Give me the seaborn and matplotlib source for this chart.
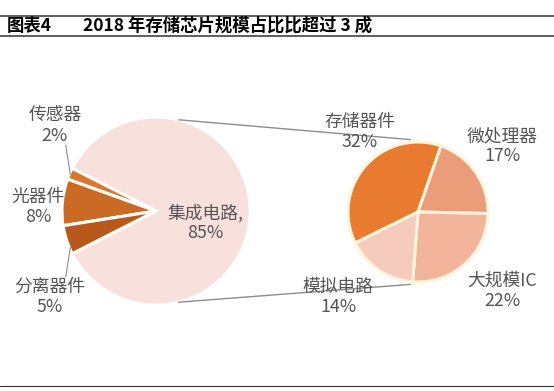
import numpy as np
import matplotlib
matplotlib.use("Agg")
import matplotlib.pyplot as plt
import seaborn as sns

# 半导体结构（左）和集成电路结构（右），单位 %
total_labels = ["集成电路", "传感器", "光器件", "分离器件"]
total_values = [85, 2, 8, 5]
total_colors = ["#F8E1DC", "#DB762C", "#CB6A25", "#B8581C"]

ic_labels = ["存储器件", "微处理器", "大规模IC", "模拟电路"]
ic_values = [32, 17, 22, 14]
ic_colors = ["#E97B30", "#EB9C78", "#F2B59C", "#F6CABD"]

title_tag = "图表4"
title_text = "2018 年存储芯片规模占比比超过 3 成"

sns.set_theme(style="white")
plt.rcParams["font.family"] = ["Noto Sans CJK SC", "DejaVu Sans"]

W, H = 554, 391
fig = plt.figure(figsize=(W / 100, H / 100), dpi=100)
ax = fig.add_axes([0, 0, 1, 1])

text_color = "#555555"

# left pie
lc, lr = (156, 180), 94
ax.pie(total_values, colors=total_colors, center=lc, radius=lr,
       startangle=-153, counterclock=True,
       explode=[0, 0.035, 0.035, 0.035],
       wedgeprops=dict(edgecolor="white", linewidth=2.2))

# right pie
rc, rr = (418, 179), 70
ax.pie(ic_values, colors=ic_colors, center=rc, radius=rr,
       startangle=206.3, counterclock=False,
       wedgeprops=dict(edgecolor="#FFF4DC", linewidth=2.2))

# pie() resets the limits, so fix them afterwards
ax.set_xlim(0, W)
ax.set_ylim(0, H)
ax.set_aspect("equal")
ax.axis("off")

# connectors between the two pies
def on_circle(c, r, ang):
    a = np.deg2rad(ang)
    return c[0] + r * np.cos(a), c[1] + r * np.sin(a)

for a1, a2 in [(76, 96), (-76, -96)]:
    p1 = on_circle(lc, lr, a1)
    p2 = on_circle(rc, rr * 1.04, a2)
    ax.plot([p1[0], p2[0]], [p1[1], p2[1]], color="#8C8C8C", lw=1)

# leader lines for small slices
for a1, a2 in [(157, 153), (203, 207)]:
    p1 = on_circle(lc, lr * 0.99, a1)
    p2 = on_circle(lc, lr * 1.03, a2)
    ax.plot([p1[0], p2[0] - 4], [p1[1], p2[1] + (22 if a1 < 180 else -22)],
            color="#8C8C8C", lw=0.8)

label_pos = {
    "集成电路": (205, 168),
    "传感器": (55, 265),
    "光器件": (38, 184),
    "分离器件": (50, 94),
    "存储器件": (360, 259),
    "微处理器": (502, 245),
    "大规模IC": (502, 100),
    "模拟电路": (338, 94),
}
for lab, val in list(zip(total_labels, total_values)) + list(zip(ic_labels, ic_values)):
    x, y = label_pos[lab]
    s = f"{lab},\n{val}%" if lab == "集成电路" else f"{lab}\n{val}%"
    ax.text(x, y, s, ha="center", va="center", fontsize=12.8,
            color=text_color, linespacing=1.15)

# title bar
ax.plot([0, W], [375, 375], color="#333333", lw=1.1)
ax.plot([0, W], [355, 355], color="#333333", lw=1.1)
ax.text(7, 365, title_tag, ha="left", va="center", fontsize=12.5,
        fontweight="bold", color="black")
ax.text(83, 365, title_text, ha="left", va="center", fontsize=12.5,
        fontweight="bold", color="black")
ax.plot([0, W], [5, 5], color="#333333", lw=0.8)

fig.savefig("out.png", dpi=100, facecolor="white")
